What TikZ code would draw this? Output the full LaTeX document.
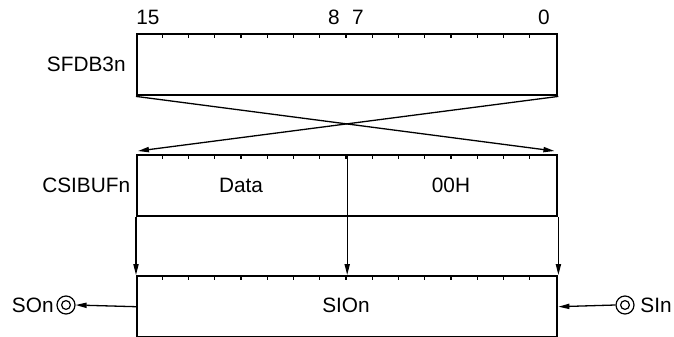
\documentclass[tikz,border=0pt]{standalone}
\usepackage{fontspec}
\setmainfont{Liberation Sans}
\usetikzlibrary{arrows.meta}
\begin{document}
\begin{tikzpicture}[x=0.5pt,y=-0.5pt,
  font=\fontsize{10.4}{12}\selectfont,
  reg/.style={draw, line width=1.2pt, minimum width=210pt, minimum height=30.5pt, inner sep=0pt, anchor=north west},
  lbl/.style={inner sep=0pt},
  tick/.style={line width=0.6pt},
  arr/.style={line width=0.65pt, -{Triangle[length=5.5pt,width=2.6pt]}},
  port/.style={draw, circle, line width=0.6pt, minimum size=9pt, inner sep=0pt},
  divider/.style={line width=0.7pt}
]
\useasboundingbox (0,0) rectangle (674,337);
% registers
\node[reg] (sfdb) at (136,33) {};
\node[reg] (csibuf) at (136,154) {};
\node[reg] (sio) at (136,275) {};
% ticks
\foreach \r in {sfdb,csibuf,sio}{
  \foreach \i in {1,...,15}{
    \draw[tick] (\r.north west) ++(\i*26.25,0) -- ++(0,5);
  }
}
% divider in CSIBUFn
\draw[divider] (csibuf.north) -- (csibuf.south);
% bit numbers
\node[lbl] (b15) at (148,17) {15};
\node[lbl] (b8) at (334,17) {8};
\node[lbl] (b7) at (358,17) {7};
\node[lbl] (b0) at (544,17) {0};
% register names
\node[lbl, anchor=east] (n1) at (126,64) {SFDB3n};
\node[lbl, anchor=east] (n2) at (130.5,185) {CSIBUFn};
\node[lbl] (dat) at (241,185) {Data};
\node[lbl] (zero) at (451,185) {00H};
\node[lbl] (sion) at (346,305) {SIOn};
% crossing arrows
\coordinate (tl) at ([shift={(2,-3)}]csibuf.north west);
\coordinate (tr) at ([shift={(-4,-3)}]csibuf.north east);
\draw[arr] (sfdb.south west) -- (tr);
\draw[arr] (sfdb.south east) -- (tl);
% vertical arrows
\draw[arr] (csibuf.south west) -- (sio.north west);
\draw[arr] (csibuf.south) -- (sio.north);
\draw[arr] (csibuf.south east) -- (sio.north east);
% ports
\node[port] (so) at (66,305) {};
\draw[line width=0.6pt] (so) circle[radius=2.2pt];
\node[lbl, anchor=east] (sotext) at (54,305) {SOn};
\node[port] (si) at (625,305) {};
\draw[line width=0.6pt] (si) circle[radius=2.2pt];
\node[lbl, anchor=west] (sitext) at (640,305) {SIn};
\draw[arr] (sio.west) -- (so.east);
\draw[arr] (si.west) -- (sio.east);
\end{tikzpicture}
\end{document}
